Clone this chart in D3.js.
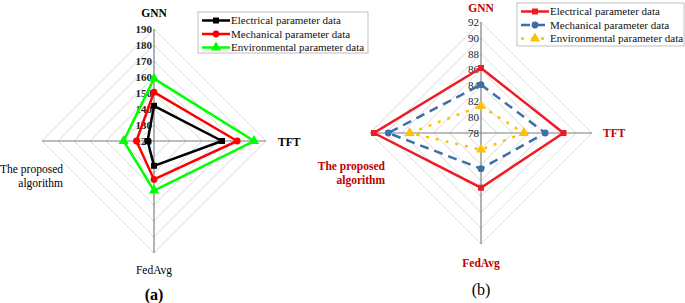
<!DOCTYPE html>
<html>
<head>
<meta charset="utf-8">
<script src="https://cdn.jsdelivr.net/npm/d3@7"></script>
<style>
  body { margin: 0; background: #fff; }
</style>
</head>
<body>
<div id="chart"></div>
<script>
// Data
const axisNames = ["GNN", "TFT", "FedAvg", "The proposed algorithm"];
const seriesNames = ["Electrical parameter data", "Mechanical parameter data", "Environmental parameter data"];

const ticksA = [120, 130, 140, 150, 160, 170, 180, 190];
const electricalA = [142, 162.5, 135.5, 124];
const mechanicalA = [150.5, 172, 144, 131];
const environmentalA = [159, 182.5, 151, 139];

const ticksB = [78, 80, 82, 84, 86, 88, 90, 92];
const electricalB = [86.2, 88.4, 84.9, 91.5];
const mechanicalB = [84.1, 86.1, 82.5, 89.7];
const environmentalB = [81.4, 83.4, 80.1, 87];

const width = 685, height = 303;
const serif = "'Liberation Serif'";

const svg = d3.select('#chart').append('svg')
    .attr('width', width)
    .attr('height', height);

function drawRadar(cfg) {
    const g = svg.append('g').attr('transform', `translate(${cfg.cx},${cfg.cy})`);
    const r = d3.scaleLinear().domain(d3.extent(cfg.ticks)).range([0, cfg.radius]);
    // axis angle: GNN up, TFT right, FedAvg down, proposed left
    const angle = i => -Math.PI / 2 + i * Math.PI / 2;
    const pt = (v, i) => [r(v) * Math.cos(angle(i)), r(v) * Math.sin(angle(i))];
    const line = d3.line();

    // grid rings
    g.selectAll('.ring')
        .data(cfg.ticks.slice(1))
        .join('path')
        .attr('class', 'ring')
        .attr('d', t => line(axisNames.map((_, i) => pt(t, i))) + 'Z')
        .attr('fill', 'none')
        .attr('stroke', '#d9d9d9')
        .attr('stroke-width', 1);

    // spokes
    g.selectAll('.spoke')
        .data(axisNames)
        .join('line')
        .attr('class', 'spoke')
        .attr('x1', 0).attr('y1', 0)
        .attr('x2', (d, i) => pt(cfg.ticks[cfg.ticks.length - 1], i)[0])
        .attr('y2', (d, i) => pt(cfg.ticks[cfg.ticks.length - 1], i)[1])
        .attr('stroke', '#7f7f7f')
        .attr('stroke-width', 1.2);

    // tick labels
    g.selectAll('.tick-label')
        .data(cfg.ticks)
        .join('text')
        .attr('class', 'tick-label')
        .attr('x', -2)
        .attr('y', t => -r(t))
        .attr('dy', '0.35em')
        .attr('text-anchor', 'end')
        .style('font-family', serif)
        .attr('font-size', 11)
        .attr('font-weight', cfg.tickWeight)
        .attr('fill', '#222')
        .text(t => t);

    // series
    cfg.series.forEach(s => {
        const pts = s.values.map((v, i) => pt(v, i));
        g.append('path')
            .attr('d', line(pts) + 'Z')
            .attr('fill', 'none')
            .attr('stroke', s.color)
            .attr('stroke-width', 2.5)
            .attr('stroke-dasharray', s.dash || null);
        drawMarkers(g, pts, s.shape, s.color);
    });

    // axis labels
    axisNames.forEach((name, i) => {
        const lp = cfg.labelPos[i];
        const t = g.append('text')
            .attr('x', lp[0])
            .attr('y', lp[1])
            .attr('text-anchor', lp[2])
            .style('font-family', serif)
            .attr('font-size', 11.5)
            .attr('font-weight', cfg.labelWeight[i])
            .attr('fill', cfg.labelColor);
        const lines = i === 3 ? ["The proposed", "algorithm"] : [name];
        lines.forEach((l, k) => t.append('tspan')
            .attr('x', lp[0])
            .attr('dy', k === 0 ? '0.35em' : 14)
            .text(l));
    });

    // caption
    svg.append('text')
        .attr('x', cfg.cx)
        .attr('y', cfg.captionY)
        .attr('text-anchor', 'middle')
        .style('font-family', serif)
        .attr('font-size', 16)
        .attr('font-weight', cfg.captionWeight)
        .attr('fill', '#000')
        .text(cfg.caption);

    // legend
    const lg = svg.append('g').attr('transform', `translate(${cfg.legend.x},${cfg.legend.y})`);
    lg.append('rect')
        .attr('width', cfg.legend.w)
        .attr('height', cfg.legend.h)
        .attr('fill', '#fff')
        .attr('stroke', '#bfbfbf');
    cfg.series.forEach((s, k) => {
        const yy = 8.5 + k * 13.5;
        lg.append('line')
            .attr('x1', 4).attr('x2', 32)
            .attr('y1', yy).attr('y2', yy)
            .attr('stroke', s.color)
            .attr('stroke-width', 2.5)
            .attr('stroke-dasharray', s.dash || null);
        drawMarkers(lg, [[18, yy]], s.shape, s.color);
        lg.append('text')
            .attr('x', 33)
            .attr('y', yy)
            .attr('dy', '0.35em')
            .style('font-family', serif)
            .attr('font-size', 11)
            .attr('fill', '#111')
            .text(seriesNames[k]);
    });
}

function drawMarkers(g, pts, shape, color) {
    const sym = shape === 'square' ? d3.symbolSquare : shape === 'circle' ? d3.symbolCircle : d3.symbolTriangle;
    g.selectAll(null)
        .data(pts)
        .join('path')
        .attr('transform', d => `translate(${d[0]},${d[1]})`)
        .attr('d', d3.symbol().type(sym).size(shape === 'triangle' ? 45 : 36))
        .attr('fill', color);
}

drawRadar({
    cx: 154, cy: 141, radius: 112,
    ticks: ticksA, tickWeight: 'bold',
    labelColor: '#000',
    labelWeight: ['bold', 'bold', 'normal', 'normal'],
    labelPos: [[0, -128, 'middle'], [124, 1, 'start'], [0, 129, 'middle'], [-91, 28, 'end']],
    caption: '(a)', captionY: 300, captionWeight: 'bold',
    legend: { x: 198, y: 12, w: 170, h: 41 },
    series: [
        { values: electricalA, color: '#000000', shape: 'square' },
        { values: mechanicalA, color: '#ff0000', shape: 'circle' },
        { values: environmentalA, color: '#00ff00', shape: 'triangle' }
    ]
});

drawRadar({
    cx: 481, cy: 133, radius: 111,
    ticks: ticksB, tickWeight: 'normal',
    labelColor: '#c00000',
    labelWeight: ['bold', 'bold', 'bold', 'bold'],
    labelPos: [[0, -125, 'middle'], [122, 0, 'start'], [0, 130, 'middle'], [-96, 33, 'end']],
    caption: '(b)', captionY: 295, captionWeight: 'normal',
    legend: { x: 517, y: 3, w: 167, h: 43 },
    series: [
        { values: electricalB, color: '#ee1c25', shape: 'square' },
        { values: mechanicalB, color: '#3b6fa8', shape: 'circle', dash: '9,6' },
        { values: environmentalB, color: '#ffc000', shape: 'triangle', dash: '3,7' }
    ]
});
</script>
</body>
</html>
